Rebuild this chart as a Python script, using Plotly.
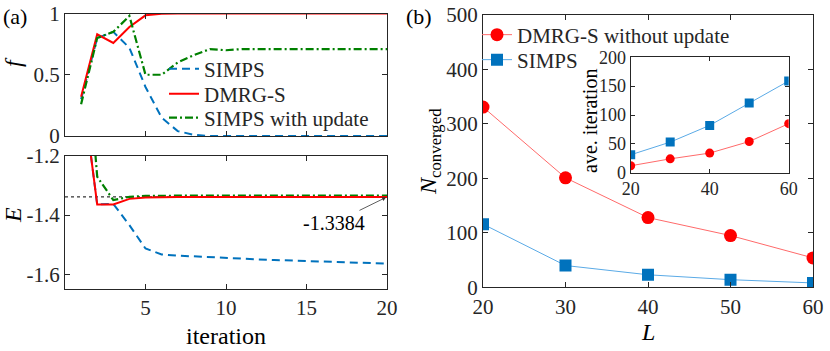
import plotly.graph_objects as go

W, H = 830, 351

# panel (a): convergence vs iteration
iters = list(range(1, 21))
f_simps = [0.30, 0.80, 0.85, 0.72, 0.40, 0.15, 0.04, 0.01, 0.0, 0.0,
           0.0, 0.0, 0.0, 0.0, 0.0, 0.0, 0.0, 0.0, 0.0, 0.0]
f_dmrg = [0.32, 0.83, 0.76, 0.89, 0.985, 0.997, 1.0, 1.0, 1.0, 1.0,
          1.0, 1.0, 1.0, 1.0, 1.0, 1.0, 1.0, 1.0, 1.0, 1.0]
f_update = [0.26, 0.80, 0.85, 0.98, 0.50, 0.50, 0.60, 0.66, 0.71, 0.70,
            0.71, 0.71, 0.71, 0.71, 0.71, 0.71, 0.71, 0.71, 0.71, 0.71]

E_simps = [-0.94, -1.364, -1.362, -1.434, -1.513, -1.533, -1.537, -1.540, -1.543, -1.546,
           -1.548, -1.550, -1.552, -1.554, -1.555, -1.557, -1.558, -1.560, -1.562, -1.564]
E_dmrg = [-0.94, -1.364, -1.364, -1.345, -1.340, -1.3386, -1.3384, -1.3384, -1.3384, -1.3384,
          -1.3384, -1.3384, -1.3384, -1.3384, -1.3384, -1.3384, -1.3384, -1.3384, -1.3384, -1.3384]
E_update = [-0.60, -1.27, -1.349, -1.338, -1.335, -1.334, -1.334, -1.334, -1.334, -1.334,
            -1.334, -1.334, -1.334, -1.334, -1.334, -1.334, -1.334, -1.334, -1.334, -1.334]
E_exact = -1.3384

# panel (b): converged count and average iterations vs L
L_vals = [20, 30, 40, 50, 60]
n_dmrg = [331, 201, 128, 95, 54]
n_simps = [116, 40, 23, 14, 8]
avg_dmrg = [12, 24, 34, 54, 85]
avg_simps = [31, 53, 82, 121, 159]

BLUE = "#0072BD"
RED = "#FF0000"
GREEN = "#008000"
FONT = "Liberation Serif, Times New Roman, DejaVu Serif, serif"
FRAME = "#262626"
DASH = "8px,5px"
DASHDOT = "8px,3px,2px,3px"


def px_x(p):
    return p / W


def px_y(p):
    return 1 - p / H


fig = go.Figure()

# (a) top: f  (one legend box per entry so rows can sit where the reference has them)
fig.add_trace(go.Scatter(x=iters, y=f_simps, mode="lines", name="SIMPS",
                         line=dict(color=BLUE, width=2, dash=DASH),
                         xaxis="x", yaxis="y", legend="legend"))
fig.add_trace(go.Scatter(x=iters, y=f_dmrg, mode="lines", name="DMRG-S",
                         line=dict(color=RED, width=2),
                         xaxis="x", yaxis="y", legend="legend2"))
fig.add_trace(go.Scatter(x=iters, y=f_update, mode="lines", name="SIMPS with update",
                         line=dict(color=GREEN, width=2.2, dash=DASHDOT),
                         xaxis="x", yaxis="y", legend="legend3"))

# (a) bottom: E
fig.add_trace(go.Scatter(x=[0, 20], y=[E_exact, E_exact], mode="lines", showlegend=False,
                         line=dict(color="black", width=1, dash="dot"),
                         xaxis="x2", yaxis="y2"))
fig.add_trace(go.Scatter(x=iters, y=E_simps, mode="lines", showlegend=False,
                         line=dict(color=BLUE, width=2, dash=DASH),
                         xaxis="x2", yaxis="y2"))
fig.add_trace(go.Scatter(x=iters, y=E_update, mode="lines", showlegend=False,
                         line=dict(color=GREEN, width=2.2, dash=DASHDOT),
                         xaxis="x2", yaxis="y2"))
fig.add_trace(go.Scatter(x=iters, y=E_dmrg, mode="lines", showlegend=False,
                         line=dict(color=RED, width=2),
                         xaxis="x2", yaxis="y2"))

# (b) main
fig.add_trace(go.Scatter(x=L_vals, y=n_dmrg, mode="lines+markers", name="DMRG-S without update",
                         line=dict(color="#FF6A6A", width=1),
                         marker=dict(color=RED, size=13, symbol="circle"),
                         xaxis="x3", yaxis="y3", legend="legend4"))
fig.add_trace(go.Scatter(x=L_vals, y=n_simps, mode="lines+markers", name="SIMPS",
                         line=dict(color="#5AAAE6", width=1),
                         marker=dict(color=BLUE, size=12, symbol="square"),
                         xaxis="x3", yaxis="y3", legend="legend5"))

# (b) inset
fig.add_trace(go.Scatter(x=L_vals, y=avg_simps, mode="lines+markers", showlegend=False,
                         line=dict(color="#5AAAE6", width=1),
                         marker=dict(color=BLUE, size=9, symbol="square"),
                         xaxis="x4", yaxis="y4"))
fig.add_trace(go.Scatter(x=L_vals, y=avg_dmrg, mode="lines+markers", showlegend=False,
                         line=dict(color="#FF6A6A", width=1),
                         marker=dict(color=RED, size=9, symbol="circle"),
                         xaxis="x4", yaxis="y4"))

axis_style = dict(showline=True, linecolor=FRAME, linewidth=1, mirror="ticks",
                  ticks="inside", ticklen=5, tickcolor=FRAME, showgrid=False,
                  zeroline=False, tickfont=dict(family=FONT, size=21, color="#262626"))
inset_style = dict(axis_style, tickfont=dict(family=FONT, size=18, color="#262626"), ticklen=4)


def legend_at(x, y):
    return dict(x=px_x(x), y=px_y(y), xanchor="left", yanchor="middle",
                bgcolor="rgba(0,0,0,0)", font=dict(family=FONT, size=21, color="#262626"),
                itemwidth=30)


fig.update_layout(
    width=W, height=H,
    margin=dict(l=0, r=0, t=0, b=0, autoexpand=False),
    paper_bgcolor="white", plot_bgcolor="white",
    font=dict(family=FONT, color="#262626"),
    xaxis=dict(axis_style, domain=[px_x(65), px_x(387)], range=[0, 20],
               tickvals=[5, 10, 15, 20], showticklabels=False, anchor="y"),
    yaxis=dict(axis_style, domain=[px_y(136), px_y(13.5)], range=[0, 1],
               tickvals=[0, 0.5, 1], ticktext=["0", "0.5", "1"], anchor="x"),
    xaxis2=dict(axis_style, domain=[px_x(65), px_x(387)], range=[0, 20],
                tickvals=[5, 10, 15, 20], anchor="y2"),
    yaxis2=dict(axis_style, domain=[px_y(289), px_y(156)], range=[-1.65, -1.2],
                tickvals=[-1.6, -1.4, -1.2], ticktext=["-1.6", "-1.4", "-1.2"], anchor="x2"),
    xaxis3=dict(axis_style, domain=[px_x(483), px_x(813)], range=[20, 60],
                tickvals=[20, 30, 40, 50, 60], anchor="y3"),
    yaxis3=dict(axis_style, domain=[px_y(287.3), px_y(15)], range=[0, 500],
                tickvals=[0, 100, 200, 300, 400, 500], anchor="x3"),
    xaxis4=dict(inset_style, domain=[px_x(630.7), px_x(788.7)], range=[20, 60],
                tickvals=[20, 40, 60], anchor="y4"),
    yaxis4=dict(inset_style, domain=[px_y(172.7), px_y(57.3)], range=[0, 200],
                tickvals=[0, 50, 100, 150, 200], anchor="x4"),
    legend=legend_at(164, 69),
    legend2=legend_at(164, 94),
    legend3=legend_at(164, 118),
    legend4=legend_at(477, 35),
    legend5=legend_at(477, 60),
)

# labels placed in pixel positions of the reference
labels = [
    ("(a)", 15, 16, 0, 22),
    ("(b)", 419, 16, 0, 22),
    ("<i>f</i>", 13, 62, -90, 24),
    ("<i>E</i>", 13, 215, -90, 24),
    ("iteration", 226, 336, 0, 24),
    ("<i>L</i>", 648, 332, 0, 24),
    ("<i>N</i><sub>converged</sub>", 430, 152, -90, 24),
    ("ave. iteration", 590, 121, -90, 20),
]
for text, x, y, ang, size in labels:
    fig.add_annotation(text=text, x=px_x(x), y=px_y(y), xref="paper", yref="paper",
                       showarrow=False, textangle=ang, xanchor="center", yanchor="middle",
                       font=dict(family=FONT, size=size, color="black"))

fig.add_annotation(text="-1.3384", x=20, y=E_exact, xref="x2", yref="y2",
                   showarrow=True, arrowhead=2, arrowsize=1, arrowwidth=0.8,
                   arrowcolor="#333333", ax=-53, ay=26, standoff=1,
                   font=dict(family=FONT, size=20, color="black"))

# drop the browser's default body margin so the figure sits at the page origin
fig.write_html("out.html", config={"displayModeBar": False},
               post_script="document.body.style.margin='0';")
